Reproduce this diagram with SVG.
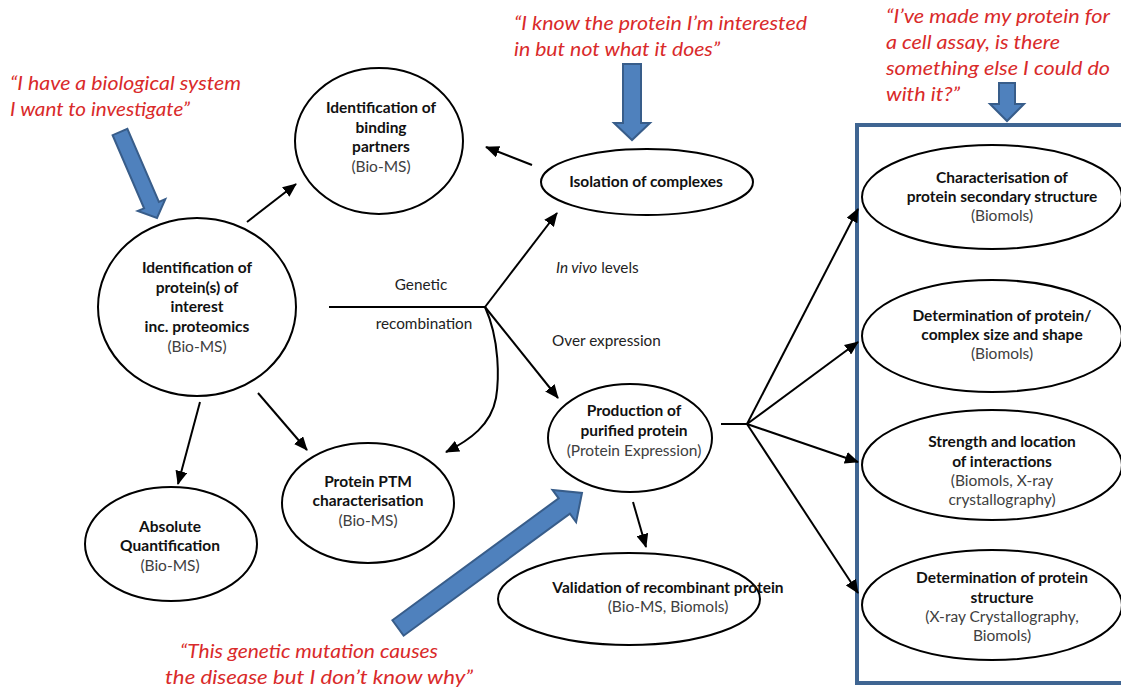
<svg xmlns="http://www.w3.org/2000/svg" width="1121" height="688" viewBox="0 0 1121 688">
<style>
.n{fill:#fff;stroke:#000;stroke-width:2}
.b{font-family:Lato,"Open Sans",sans-serif;font-size:15.5px;font-weight:bold;fill:#111;text-anchor:middle}
.g{font-family:Lato,"Open Sans",sans-serif;font-size:15.5px;fill:#404040;text-anchor:middle}
.l{font-family:Lato,"Open Sans",sans-serif;font-size:15.3px;fill:#222}
.q{font-family:Lato,"Open Sans",sans-serif;font-size:19px;font-style:italic;fill:#d92a2a}
.c{fill:none;stroke:#000;stroke-width:2}
.ba{fill:#4f81bd;stroke:#385d8a;stroke-width:2}
</style>
<defs>
<marker id="ah" markerUnits="userSpaceOnUse" markerWidth="14" markerHeight="12" refX="13" refY="6" orient="auto"><path d="M0,0 L14,6 L0,12 Z" fill="#000"/></marker>
</defs>
<rect x="857" y="125" width="280" height="558" fill="#fff" stroke="#3f6592" stroke-width="4"/>
<g id="connectors">
<line class="c" x1="247" y1="222" x2="296" y2="184" marker-end="url(#ah)"/>
<line class="c" x1="532" y1="165" x2="486" y2="147" marker-end="url(#ah)"/>
<line class="c" x1="329" y1="307" x2="485" y2="307"/>
<line class="c" x1="485" y1="307" x2="557" y2="213" marker-end="url(#ah)"/>
<line class="c" x1="485" y1="307" x2="558" y2="398" marker-end="url(#ah)"/>
<path class="c" d="M485,307 C500,340 499,380 496,398 C491,425 470,440 446,452" marker-end="url(#ah)"/>
<line class="c" x1="200" y1="402" x2="178" y2="484" marker-end="url(#ah)"/>
<line class="c" x1="258" y1="393" x2="307" y2="450" marker-end="url(#ah)"/>
<line class="c" x1="633" y1="502" x2="646" y2="547" marker-end="url(#ah)"/>
<line class="c" x1="721" y1="424" x2="747" y2="424"/>
<line class="c" x1="747" y1="424" x2="858" y2="209" marker-end="url(#ah)"/>
<line class="c" x1="747" y1="424" x2="858" y2="342" marker-end="url(#ah)"/>
<line class="c" x1="747" y1="424" x2="858" y2="462" marker-end="url(#ah)"/>
<line class="c" x1="747" y1="424" x2="858" y2="593" marker-end="url(#ah)"/>
</g>
<g id="labels">
<text class="l" x="421" y="290" text-anchor="middle">Genetic</text>
<text class="l" x="424" y="329" text-anchor="middle">recombination</text>
<text class="l" x="556" y="273"><tspan font-style="italic">In vivo</tspan> levels</text>
<text class="l" x="552" y="346">Over expression</text>
</g>
<g id="n-binding">
<ellipse class="n" cx="379" cy="141" rx="84" ry="73"/>
<text class="b" x="381" y="113">Identification of</text>
<text class="b" x="381" y="133">binding</text>
<text class="b" x="381" y="152">partners</text>
<text class="g" x="381" y="172">(Bio-MS)</text>
</g>
<g id="n-isolation">
<ellipse class="n" cx="647" cy="182" rx="106" ry="33"/>
<text class="b" x="646" y="187">Isolation of complexes</text>
</g>
<g id="n-identification">
<ellipse class="n" cx="197" cy="307" rx="99" ry="89"/>
<text class="b" x="197" y="273">Identification of</text>
<text class="b" x="197" y="293">protein(s) of</text>
<text class="b" x="197" y="312">interest</text>
<text class="b" x="197" y="332">inc. proteomics</text>
<text class="g" x="197" y="352">(Bio-MS)</text>
</g>
<g id="n-absolute">
<ellipse class="n" cx="171" cy="544" rx="86" ry="57"/>
<text class="b" x="170" y="532">Absolute</text>
<text class="b" x="170" y="551">Quantification</text>
<text class="g" x="170" y="571">(Bio-MS)</text>
</g>
<g id="n-ptm">
<ellipse class="n" cx="368" cy="503" rx="86" ry="60"/>
<text class="b" x="368" y="487">Protein PTM</text>
<text class="b" x="368" y="506">characterisation</text>
<text class="g" x="368" y="526">(Bio-MS)</text>
</g>
<g id="n-production">
<ellipse class="n" cx="630" cy="438" rx="82" ry="54"/>
<text class="b" x="634" y="416">Production of</text>
<text class="b" x="634" y="436">purified protein</text>
<text class="g" x="634" y="456">(Protein Expression)</text>
</g>
<g id="n-validation">
<ellipse class="n" cx="629" cy="599" rx="131" ry="46"/>
<text class="b" x="668" y="593">Validation of recombinant protein</text>
<text class="g" x="668" y="612">(Bio-MS, Biomols)</text>
</g>
<g id="n-secondary">
<ellipse class="n" cx="992" cy="197" rx="130" ry="52"/>
<text class="b" x="1002" y="183">Characterisation of</text>
<text class="b" x="1002" y="202">protein secondary structure</text>
<text class="g" x="1002" y="221">(Biomols)</text>
</g>
<g id="n-size">
<ellipse class="n" cx="992" cy="336" rx="130" ry="56"/>
<text class="b" x="1002" y="321">Determination of protein/</text>
<text class="b" x="1002" y="340">complex size and shape</text>
<text class="g" x="1002" y="359">(Biomols)</text>
</g>
<g id="n-strength">
<ellipse class="n" cx="992" cy="465" rx="130" ry="55"/>
<text class="b" x="1002" y="447">Strength and location</text>
<text class="b" x="1002" y="467">of interactions</text>
<text class="g" x="1002" y="486">(Biomols, X-ray</text>
<text class="g" x="1002" y="505">crystallography)</text>
</g>
<g id="n-structure">
<ellipse class="n" cx="992" cy="605" rx="130" ry="55"/>
<text class="b" x="1002" y="583">Determination of protein</text>
<text class="b" x="1002" y="603">structure</text>
<text class="g" x="1002" y="622">(X-ray Crystallography,</text>
<text class="g" x="1002" y="641">Biomols)</text>
</g>
<g id="quotes">
<text class="q" x="10" y="90" textLength="231" lengthAdjust="spacingAndGlyphs">“I have a biological system</text>
<text class="q" x="10" y="116" textLength="180" lengthAdjust="spacingAndGlyphs">I want to investigate”</text>
<text class="q" x="514" y="30" textLength="293" lengthAdjust="spacingAndGlyphs">“I know the protein I’m interested</text>
<text class="q" x="514" y="56" textLength="206" lengthAdjust="spacingAndGlyphs">in but not what it does”</text>
<text class="q" x="886" y="23" textLength="224" lengthAdjust="spacingAndGlyphs">“I’ve made my protein for</text>
<text class="q" x="886" y="49" textLength="174" lengthAdjust="spacingAndGlyphs">a cell assay, is there</text>
<text class="q" x="886" y="75" textLength="224" lengthAdjust="spacingAndGlyphs">something else I could do</text>
<text class="q" x="886" y="101" textLength="74" lengthAdjust="spacingAndGlyphs">with it?”</text>
<text class="q" x="180" y="658" textLength="258" lengthAdjust="spacingAndGlyphs">“This genetic mutation causes</text>
<text class="q" x="165" y="684" textLength="308" lengthAdjust="spacingAndGlyphs">the disease but I don’t know why”</text>
</g>
<g id="block-arrows">
<polygon class="ba" points="127.4,128.8 158.9,201.9 165.3,199.2 157,218 137.7,211 144.1,208.3 112.6,135.2"/>
<polygon class="ba" points="623,64 641,64 641,123 650,123 632,140 614,123 623,123"/>
<polygon class="ba" points="999,83 1015,83 1015,104 1024,104 1007,121 990,104 999,104"/>
<polygon class="ba" points="392.4,620.3 558.7,498.3 552.5,489.9 582,493 576.1,522.1 569.9,513.7 403.6,635.7"/>
</g>
</svg>
